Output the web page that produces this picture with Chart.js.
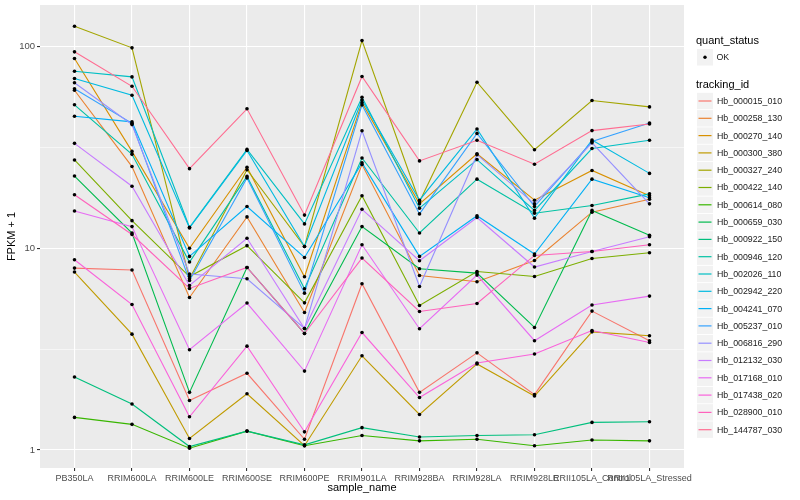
<!DOCTYPE html>
<html>
<head>
<meta charset="utf-8">
<script src="https://cdn.jsdelivr.net/npm/chart.js@4.4.0/dist/chart.umd.min.js"></script>
<style>
  html, body { margin: 0; padding: 0; background: #fff; }
  #wrap { width: 800px; height: 500px; }
</style>
</head>
<body>
<div id="wrap"><canvas id="chart"></canvas></div>
<script>
const samples = ['PB350LA', 'RRIM600LA', 'RRIM600LE', 'RRIM600SE', 'RRIM600PE', 'RRIM901LA',
  'RRIM928BA', 'RRIM928LA', 'RRIM928LE', 'RRII105LA_Control', 'RRII105LA_Stressed'];

const trackingIds = ['Hb_000015_010', 'Hb_000258_130', 'Hb_000270_140', 'Hb_000300_380', 'Hb_000327_240',
  'Hb_000422_140', 'Hb_000614_080', 'Hb_000659_030', 'Hb_000922_150', 'Hb_000946_120',
  'Hb_002026_110', 'Hb_002942_220', 'Hb_004241_070', 'Hb_005237_010', 'Hb_006816_290',
  'Hb_012132_030', 'Hb_017168_010', 'Hb_017438_020', 'Hb_028900_010', 'Hb_144787_030'];

// ggplot hue palette, one per tracking_id
const hueColours = ['#F8766D', '#EA8331', '#D89000', '#C09B00', '#A3A500', '#7CAE00', '#39B600', '#00BB4E',
  '#00BF7D', '#00C1A3', '#00BFC4', '#00BAE0', '#00B0F6', '#35A2FF', '#9590FF', '#C77CFF',
  '#E76BF3', '#FA62DB', '#FF62BC', '#FF6C91'];

// FPKM + 1 for each gene, in sample order
const hb000015_010 = [7.97, 7.80, 1.76, 2.40, 1.13, 6.67, 1.93, 3.03, 1.88, 4.88, 3.48];
const hb000258_130 = [60.7, 25.4, 5.70, 14.3, 4.80, 26.0, 7.33, 6.82, 8.70, 15.1, 17.5];
const hb000270_140 = [87.2, 30.2, 10.0, 25.2, 7.22, 52.7, 16.6, 29.4, 17.3, 24.3, 18.2];
const hb000300_380 = [7.62, 3.75, 1.14, 1.90, 1.05, 2.93, 1.50, 2.67, 1.85, 3.85, 3.68];
const hb000327_240 = [126, 98.5, 7.06, 24.5, 10.2, 107, 17.0, 66.5, 30.8, 54.0, 50.2];
const hb000422_140 = [27.4, 13.7, 7.24, 10.3, 5.36, 18.2, 5.20, 7.67, 7.24, 8.90, 9.50];
const hb000614_080 = [1.45, 1.34, 1.02, 1.24, 1.05, 1.18, 1.11, 1.13, 1.05, 1.12, 1.11];
const hb000659_030 = [22.8, 11.9, 1.93, 8.03, 3.78, 12.8, 7.91, 7.53, 4.05, 15.4, 11.6];
const hb000922_150 = [2.30, 1.69, 1.04, 1.24, 1.06, 1.29, 1.16, 1.18, 1.19, 1.37, 1.38];
const hb000946_120 = [51.4, 29.2, 8.54, 22.7, 6.30, 28.0, 11.9, 22.0, 14.9, 16.3, 18.6];
const hb002026_110 = [75.4, 70.7, 12.7, 30.9, 13.2, 56.0, 15.8, 27.5, 15.4, 31.2, 34.3];
const hb002942_220 = [69.4, 57.3, 12.6, 30.5, 10.2, 54.3, 17.3, 39.0, 14.1, 34.4, 23.5];
const hb004241_070 = [45.1, 42.3, 9.11, 16.1, 9.00, 26.5, 9.11, 14.5, 9.36, 22.0, 17.8];
const hb005237_010 = [61.7, 41.6, 6.92, 22.3, 5.99, 51.3, 14.8, 37.1, 16.1, 33.8, 41.8];
const hb006816_290 = [66.1, 41.0, 7.45, 7.06, 4.00, 38.2, 6.46, 29.1, 16.6, 33.3, 16.6];
const hb012132_030 = [33.1, 20.3, 6.54, 11.2, 4.00, 15.6, 8.67, 14.2, 8.07, 9.64, 11.4];
const hb017168_010 = [15.3, 12.8, 3.14, 5.35, 2.46, 10.4, 3.99, 7.36, 3.48, 5.23, 5.79];
const hb017438_020 = [8.77, 5.26, 1.46, 3.27, 1.23, 3.82, 1.82, 2.70, 2.99, 3.91, 3.41];
const hb028900_010 = [18.4, 11.7, 6.32, 8.03, 3.78, 8.94, 4.86, 5.32, 9.21, 9.64, 10.4];
const hb144787_030 = [94.1, 63.5, 24.8, 49.1, 14.6, 71.0, 27.1, 34.3, 26.1, 38.3, 41.3];

const seriesValues = [hb000015_010, hb000258_130, hb000270_140, hb000300_380, hb000327_240,
  hb000422_140, hb000614_080, hb000659_030, hb000922_150, hb000946_120,
  hb002026_110, hb002942_220, hb004241_070, hb005237_010, hb006816_290,
  hb012132_030, hb017168_010, hb017438_020, hb028900_010, hb144787_030];

const yLabelled = [1, 10, 100];
const yGridValues = [1, 3.1623, 10, 31.623, 100];

const FONT = '"Liberation Sans", Arial, sans-serif';

const panelBg = {
  id: 'panelBg',
  beforeDraw(chart) {
    const a = chart.chartArea;
    const ctx = chart.ctx;
    ctx.save();
    ctx.fillStyle = '#EBEBEB';
    ctx.fillRect(a.left, a.top, a.right - a.left, a.bottom - a.top);
    ctx.restore();
  }
};

// ggplot-like legend on the right
const ggLegend = {
  id: 'ggLegend',
  afterDraw(chart) {
    const ctx = chart.ctx;
    ctx.save();
    ctx.textBaseline = 'middle';
    ctx.textAlign = 'left';

    ctx.fillStyle = '#000';
    ctx.font = '11px ' + FONT;
    ctx.fillText('quant_status', 696, 41);
    ctx.fillStyle = '#F2F2F2';
    ctx.fillRect(697, 49, 16, 16.5);
    ctx.fillStyle = '#000';
    ctx.beginPath();
    ctx.arc(705, 57.2, 1.7, 0, Math.PI * 2);
    ctx.fill();
    ctx.font = '8.8px ' + FONT;
    ctx.fillStyle = '#1A1A1A';
    ctx.fillText('OK', 716.5, 57.5);

    ctx.fillStyle = '#000';
    ctx.font = '11px ' + FONT;
    ctx.fillText('tracking_id', 696, 84.5);

    ctx.font = '8.8px ' + FONT;
    trackingIds.forEach((id, i) => {
      const yc = 101 + i * 17.3;
      ctx.fillStyle = '#F2F2F2';
      ctx.fillRect(697, yc - 8.2, 16, 16.4);
      ctx.strokeStyle = hueColours[i];
      ctx.lineWidth = 1.2;
      ctx.beginPath();
      ctx.moveTo(698.5, yc);
      ctx.lineTo(711.5, yc);
      ctx.stroke();
      ctx.fillStyle = '#1A1A1A';
      ctx.fillText(id, 717, yc + 0.5);
    });
    ctx.restore();
  }
};

const lineSets = seriesValues.map((vals, i) => ({
  label: trackingIds[i],
  data: vals.map((v, j) => ({ x: j, y: v })),
  borderColor: hueColours[i],
  backgroundColor: hueColours[i],
  borderWidth: 1.1,
  pointRadius: 0,
  tension: 0,
  order: seriesValues.length - i
}));

const pointSet = {
  label: 'OK',
  data: seriesValues.flatMap(vals => vals.map((v, j) => ({ x: j, y: v }))),
  showLine: false,
  pointRadius: 1.8,
  pointBackgroundColor: '#000',
  pointBorderWidth: 0,
  order: 0
};

new Chart(document.getElementById('chart'), {
  type: 'line',
  data: { datasets: lineSets.concat([pointSet]) },
  options: {
    responsive: true,
    maintainAspectRatio: false,
    animation: false,
    layout: { padding: { left: 0, right: 116, top: 5, bottom: 0 } },
    plugins: { legend: { display: false }, tooltip: { enabled: false } },
    scales: {
      x: {
        type: 'linear',
        min: -0.6,
        max: 10.6,
        afterBuildTicks: s => { s.ticks = samples.map((_, i) => ({ value: i })); },
        afterFit: s => { s.height = 32; s.paddingLeft = 0; s.paddingRight = 0; },
        ticks: {
          callback: v => samples[v],
          autoSkip: false,
          maxRotation: 0,
          minRotation: 0,
          color: '#4D4D4D',
          font: { family: FONT, size: 9 },
          padding: 2
        },
        grid: { color: '#FFFFFF', lineWidth: 1.1, tickColor: '#333333', tickLength: 3 },
        border: { display: false },
        title: {
          display: true, text: 'sample_name', color: '#000',
          font: { family: FONT, size: 11 }, padding: { top: 0, bottom: 5 }
        }
      },
      y: {
        type: 'logarithmic',
        min: 0.814,
        max: 160.6,
        afterBuildTicks: s => { s.ticks = yGridValues.map(v => ({ value: v })); },
        afterFit: s => { s.width = 40; s.paddingTop = 0; s.paddingBottom = 0; },
        ticks: {
          callback: v => yLabelled.includes(v) ? String(v) : '',
          autoSkip: false,
          color: '#4D4D4D',
          font: { family: FONT, size: 9.5 },
          padding: 2
        },
        grid: {
          color: '#FFFFFF',
          lineWidth: c => (c.tick && yLabelled.includes(c.tick.value)) ? 1.1 : 0.55,
          tickColor: c => (c.tick && yLabelled.includes(c.tick.value)) ? '#333333' : 'rgba(0,0,0,0)',
          tickLength: 3
        },
        border: { display: false },
        title: {
          display: true, text: 'FPKM + 1', color: '#000',
          font: { family: FONT, size: 11 }, padding: { top: 5, bottom: 0 }
        }
      }
    }
  },
  plugins: [panelBg, ggLegend]
});
</script>
</body>
</html>
